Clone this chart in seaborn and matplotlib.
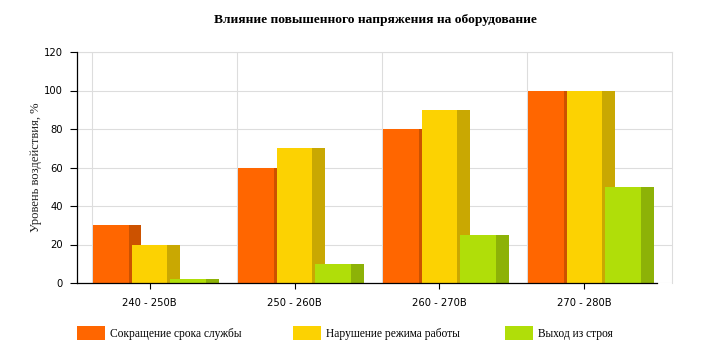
import numpy as np
import pandas as pd
import seaborn as sns
import matplotlib
matplotlib.use("Agg")
import matplotlib.pyplot as plt
from matplotlib.patches import Rectangle

categories = ["240 - 250В", "250 - 260В", "260 - 270В", "270 - 280В"]
series = ["Сокращение срока службы", "Нарушение режима работы", "Выход из строя"]
values_life = [30, 60, 80, 100]
values_mode = [20, 70, 90, 100]
values_fail = [2, 10, 25, 50]
y_ticks = [0, 20, 40, 60, 80, 100, 120]

front_colors = ["#FF6600", "#FCD202", "#B0DE09"]
side_colors = ["#CC5200", "#C9A802", "#8DB207"]

df = pd.DataFrame({
    "cat": categories * 3,
    "series": [series[0]] * 4 + [series[1]] * 4 + [series[2]] * 4,
    "val": values_life + values_mode + values_fail,
})

sns.set_theme(style="white")
plt.rcParams["font.family"] = ["DejaVu Sans"]

fig = plt.figure(figsize=(7.01, 3.58), dpi=100)
# front plane 77..657, back plane shifted 15 px to the right (up to 672)
ax = fig.add_axes([77 / 701, 1 - 283 / 358, 595 / 701, 231 / 358])
shift = 15 / 145

sns.barplot(data=df, x="cat", y="val", hue="series", order=categories,
            hue_order=series, palette=front_colors, width=0.8, gap=0.07,
            saturation=1, legend=False, ax=ax, edgecolor="none", linewidth=0)

depth = 12.5 / 145
front_containers = list(ax.containers)
for i, cont in enumerate(front_containers):
    for p in cont:
        p.set_zorder(3 + 2 * i)
        ax.bar(p.get_x() + p.get_width(), p.get_height(), width=depth,
               align="edge", color=side_colors[i], linewidth=0,
               zorder=4 + 2 * i)

ax.set_xlim(-0.5, 3.5 + shift)
ax.set_ylim(0, 120)
ax.set_yticks(y_ticks)
ax.set_xticks(range(len(categories)))
ax.set_xticklabels(categories)
ax.set_xlabel("")
ax.set_ylabel("Уровень воздействия, %", family="Liberation Serif",
              fontsize=9.1, color="#222222")
ax.yaxis.set_label_coords(-35 / 595, 0.5)

for y in y_ticks:
    ax.axhline(y, color="#DDDDDD", lw=0.8, zorder=0)
for x in [-0.5 + shift, 0.5 + shift, 1.5 + shift, 2.5 + shift]:
    ax.axvline(x, color="#DDDDDD", lw=0.8, zorder=0)

for s in ["top", "right"]:
    ax.spines[s].set_color("#DDDDDD")
    ax.spines[s].set_linewidth(0.8)
for s in ["left", "bottom"]:
    ax.spines[s].set_color("#000000")
    ax.spines[s].set_linewidth(0.9)
    ax.spines[s].set_zorder(20)
ax.spines["bottom"].set_bounds(-0.5, 3.5)

ax.tick_params(axis="y", which="both", left=True, length=5, width=0.8,
               color="#000000", labelsize=7.2, labelcolor="#000000", pad=5)
ax.tick_params(axis="x", which="both", bottom=True, length=4, width=0.8,
               color="#000000", labelsize=7.2, labelcolor="#000000", pad=7)

fig.text(375 / 701, 1 - 20 / 358, "Влияние повышенного напряжения на оборудование",
         ha="center", va="center", family="Liberation Serif", weight="bold",
         fontsize=9.7, color="#000000")

leg_x = [77, 293, 505]
for i, name in enumerate(series):
    fig.add_artist(Rectangle((leg_x[i] / 701, 1 - 340 / 358), 28 / 701, 14 / 358,
                             transform=fig.transFigure, color=front_colors[i], lw=0))
    fig.text((leg_x[i] + 33) / 701, 1 - 334 / 358, name, ha="left", va="center",
             family="Liberation Serif", fontsize=8.3, color="#000000")

fig.savefig("out.png", dpi=100)
